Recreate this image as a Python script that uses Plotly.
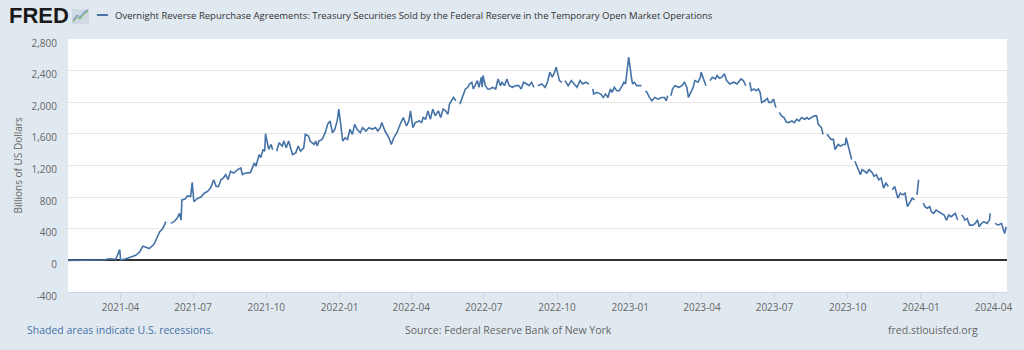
import plotly.graph_objects as go

# ---- data ----
dates = [
    "2021-01-25", "2021-02-09", "2021-02-25", "2021-03-10", "2021-03-18", "2021-03-26", "2021-03-31", "2021-04-01",
    "2021-04-08", "2021-04-14", "2021-04-20", "2021-04-25", "2021-04-29", "2021-05-02", "2021-05-07", "2021-05-13",
    "2021-05-15", "2021-05-20", "2021-05-24", "2021-05-28", "2021-05-31", "2021-06-03", "2021-06-07", "2021-06-11",
    "2021-06-14", "2021-06-16", "2021-06-17", "2021-06-21", "2021-06-24", "2021-06-28", "2021-06-30", "2021-07-02",
    "2021-07-07", "2021-07-11", "2021-07-15", "2021-07-19", "2021-07-23", "2021-07-27", "2021-07-30", "2021-08-02",
    "2021-08-05", "2021-08-08", "2021-08-11", "2021-08-14", "2021-08-17", "2021-08-21", "2021-08-26", "2021-08-30",
    "2021-09-01", "2021-09-05", "2021-09-09", "2021-09-11", "2021-09-16", "2021-09-18", "2021-09-22", "2021-09-24",
    "2021-09-27", "2021-09-29", "2021-09-30", "2021-10-04", "2021-10-07", "2021-10-09", "2021-10-11", "2021-10-14",
    "2021-10-17", "2021-10-21", "2021-10-23", "2021-10-26", "2021-10-29", "2021-11-01", "2021-11-03", "2021-11-07",
    "2021-11-10", "2021-11-13", "2021-11-17", "2021-11-19", "2021-11-23", "2021-11-25", "2021-11-30", "2021-12-02",
    "2021-12-04", "2021-12-06", "2021-12-10", "2021-12-14", "2021-12-17", "2021-12-20", "2021-12-23", "2021-12-26",
    "2021-12-29", "2021-12-31", "2022-01-05", "2022-01-08", "2022-01-11", "2022-01-14", "2022-01-17", "2022-01-20",
    "2022-01-23", "2022-01-27", "2022-01-30", "2022-02-03", "2022-02-07", "2022-02-11", "2022-02-15", "2022-02-18",
    "2022-02-21", "2022-02-23", "2022-02-27", "2022-03-04", "2022-03-07", "2022-03-10", "2022-03-14", "2022-03-19",
    "2022-03-22", "2022-03-26", "2022-03-29", "2022-03-31", "2022-04-03", "2022-04-06", "2022-04-11", "2022-04-14",
    "2022-04-16", "2022-04-19", "2022-04-22", "2022-04-25", "2022-04-28", "2022-05-01", "2022-05-05", "2022-05-08",
    "2022-05-11", "2022-05-14", "2022-05-17", "2022-05-19", "2022-05-22", "2022-05-24", "2022-05-27", "2022-05-30",
    "2022-06-01", "2022-06-04", "2022-06-08", "2022-06-11", "2022-06-13", "2022-06-16", "2022-06-18", "2022-06-20",
    "2022-06-23", "2022-06-25", "2022-06-28", "2022-06-29", "2022-06-30", "2022-07-03", "2022-07-06", "2022-07-09",
    "2022-07-12", "2022-07-16", "2022-07-19", "2022-07-22", "2022-07-24", "2022-07-27", "2022-07-30", "2022-08-02",
    "2022-08-06", "2022-08-10", "2022-08-14", "2022-08-17", "2022-08-20", "2022-08-24", "2022-08-27", "2022-08-30",
    "2022-09-02", "2022-09-05", "2022-09-07", "2022-09-12", "2022-09-16", "2022-09-19", "2022-09-22", "2022-09-25",
    "2022-09-28", "2022-09-30", "2022-10-04", "2022-10-07", "2022-10-10", "2022-10-11", "2022-10-15", "2022-10-19",
    "2022-10-22", "2022-10-26", "2022-10-30", "2022-11-02", "2022-11-06", "2022-11-10", "2022-11-11", "2022-11-15",
    "2022-11-16", "2022-11-20", "2022-11-25", "2022-11-28", "2022-12-01", "2022-12-04", "2022-12-07", "2022-12-09",
    "2022-12-12", "2022-12-15", "2022-12-18", "2022-12-22", "2022-12-24", "2022-12-26", "2022-12-30", "2023-01-03",
    "2023-01-04", "2023-01-06", "2023-01-09", "2023-01-12", "2023-01-15", "2023-01-16", "2023-01-20", "2023-01-22",
    "2023-01-25", "2023-01-28", "2023-02-01", "2023-02-05", "2023-02-09", "2023-02-13", "2023-02-15", "2023-02-17",
    "2023-02-20", "2023-02-21", "2023-02-23", "2023-02-26", "2023-03-03", "2023-03-07", "2023-03-10", "2023-03-13",
    "2023-03-15", "2023-03-18", "2023-03-21", "2023-03-23", "2023-03-27", "2023-03-30", "2023-03-31", "2023-04-03",
    "2023-04-06", "2023-04-07", "2023-04-11", "2023-04-14", "2023-04-18", "2023-04-20", "2023-04-23", "2023-04-26",
    "2023-04-29", "2023-05-02", "2023-05-06", "2023-05-11", "2023-05-15", "2023-05-18", "2023-05-20", "2023-05-23",
    "2023-05-26", "2023-05-29", "2023-05-31", "2023-06-02", "2023-06-05", "2023-06-08", "2023-06-11", "2023-06-13",
    "2023-06-15", "2023-06-19", "2023-06-22", "2023-06-24", "2023-06-27", "2023-06-30", "2023-07-02", "2023-07-03",
    "2023-07-04", "2023-07-07", "2023-07-10", "2023-07-13", "2023-07-16", "2023-07-19", "2023-07-23", "2023-07-26",
    "2023-07-29", "2023-08-01", "2023-08-04", "2023-08-08", "2023-08-11", "2023-08-13", "2023-08-17", "2023-08-20",
    "2023-08-23", "2023-08-25", "2023-08-29", "2023-08-31", "2023-09-04", "2023-09-05", "2023-09-07", "2023-09-10",
    "2023-09-13", "2023-09-15", "2023-09-19", "2023-09-22", "2023-09-25", "2023-09-28", "2023-09-29", "2023-10-03",
    "2023-10-06", "2023-10-09", "2023-10-10", "2023-10-14", "2023-10-17", "2023-10-19", "2023-10-22", "2023-10-25",
    "2023-10-28", "2023-11-01", "2023-11-03", "2023-11-06", "2023-11-09", "2023-11-12", "2023-11-15", "2023-11-18",
    "2023-11-21", "2023-11-23", "2023-11-26", "2023-11-29", "2023-12-03", "2023-12-06", "2023-12-09", "2023-12-12",
    "2023-12-15", "2023-12-18", "2023-12-21", "2023-12-24", "2023-12-25", "2023-12-27", "2023-12-29", "2024-01-01",
    "2024-01-04", "2024-01-06", "2024-01-09", "2024-01-12", "2024-01-14", "2024-01-17", "2024-01-20", "2024-01-23",
    "2024-01-27", "2024-01-30", "2024-02-02", "2024-02-05", "2024-02-08", "2024-02-10", "2024-02-13", "2024-02-16",
    "2024-02-19", "2024-02-21", "2024-02-23", "2024-02-25", "2024-02-28", "2024-03-02", "2024-03-06", "2024-03-09",
    "2024-03-12", "2024-03-14", "2024-03-17", "2024-03-20", "2024-03-24", "2024-03-27", "2024-03-28", "2024-03-29",
    "2024-04-03", "2024-04-07", "2024-04-11", "2024-04-15", "2024-04-17",
]

values = [
    0, 0, 2, 5, 20, 15, 136, 5,
    20, 40, 64, 106, 178, 170, 150, 204,
    255, 360, 404, 489, None, 468, 489, 531,
    595, 510, 765, 775, 816, 810, 986, 744,
    786, 800, 850, 870, 914, 1020, 935, 935,
    1020, 1041, 1084, 1020, 1126, 1105, 1148, 1169,
    1084, 1105, 1105, 1110, 1233, 1190, 1339, 1300,
    1403, 1380, 1602, 1403, 1466, 1400, None, 1381,
    1488, 1445, 1509, 1424, 1509, 1403, 1339, 1360,
    1445, 1381, 1424, 1594, 1573, 1509, 1466, 1509,
    1445, 1509, 1530, 1615, 1721, 1764, 1615, 1658,
    1764, 1913, 1509, 1551, 1530, 1658, 1594, 1721,
    1658, 1615, 1679, 1636, 1679, 1658, 1679, 1636,
    1679, 1743, 1636, 1551, 1466, 1551, 1615, 1743,
    1806, 1700, 1764, 1891, 1679, 1743, 1764, 1743,
    1806, 1785, 1891, 1785, 1913, 1828, 1891, 1806,
    1913, 1891, 1849, 1976, 2019, 2061, 2019, None,
    1976, 2061, 2168, 2189, 2231, 2253, 2168, 2210,
    2274, 2189, 2317, 2189, 2338, 2210, 2168, 2168,
    2189, 2168, 2295, 2210, 2253, 2210, 2295, 2210,
    2189, 2210, 2210, 2168, 2253, 2231, 2210, 2253,
    2189, None, 2210, 2231, 2189, 2253, 2380, 2317,
    2380, 2444, 2274, 2253, None, 2274, 2210, 2274,
    2231, 2189, 2274, 2231, 2253, 2231, None, 2168,
    2104, 2125, 2104, 2061, 2104, 2061, 2168, 2125,
    2189, 2146, 2146, 2210, 2253, 2231, 2571, 2274,
    2231, 2253, 2210, 2210, 2210, None, 2146, 2125,
    2061, 2019, 2061, 2040, 2061, 2061, 2019, 2083,
    None, 2083, 2168, 2210, 2189, 2210, 2253, 2189,
    2061, 2125, 2189, 2274, 2253, 2317, 2380, 2295,
    2210, None, 2274, 2317, 2295, 2338, 2304, 2317,
    2359, 2274, 2231, 2253, 2231, 2274, 2295, 2274,
    2210, None, 2253, 2146, 2168, 2146, 2168, 2125,
    1998, 2019, 2049, 1998, 1998, 2040, 1955, 1934,
    None, 1870, 1828, 1806, 1751, 1743, 1764, 1743,
    1785, 1764, 1806, 1785, 1806, 1785, 1806, 1828,
    1828, 1722, 1679, 1594, None, 1594, 1573, 1530,
    1530, 1403, 1466, 1445, 1466, 1466, 1551, 1403,
    1275, None, 1254, 1169, 1084, 1148, 1126, 1105,
    1148, 1105, 1063, 1084, 1020, 1041, 914, 978,
    935, None, 893, 935, 786, 850, 829, 850,
    680, 744, 786, 765, None, 829, 1020, None,
    723, 680, 659, 680, 616, 595, 637, 616,
    595, 574, 510, 574, 553, 574, 595, 510,
    None, 574, 553, 510, 531, 446, 446, 468,
    510, 425, 468, 489, 468, 510, 595, None,
    468, 446, 468, 340, 425,
]

tick_dates = [
    "2021-04-01", "2021-07-01", "2021-10-01", "2022-01-01", "2022-04-01", "2022-07-01", "2022-10-01",
    "2023-01-01", "2023-04-01", "2023-07-01", "2023-10-01", "2024-01-01", "2024-04-01",
]
y_ticks = [-400, 0, 400, 800, 1200, 1600, 2000, 2400, 2800]
y_tick_labels = ["-400", "0", "400", "800", "1,200", "1,600", "2,000", "2,400", "2,800"]

series_name = ("Overnight Reverse Repurchase Agreements: Treasury Securities Sold by the "
               "Federal Reserve in the Temporary Open Market Operations")

LINE = "#4572a7"
FONT = "Open Sans"

fig = go.Figure()
fig.add_trace(go.Scatter(
    x=dates, y=values, mode="lines", connectgaps=False,
    line=dict(color=LINE, width=1.6), name=series_name, showlegend=False,
))

fig.update_layout(
    width=1024, height=350,
    margin=dict(l=68, r=15, t=39, b=58),
    paper_bgcolor="#e1e9f0",
    plot_bgcolor="#ffffff",
    font=dict(family=FONT, color="#666666", size=10),
    xaxis=dict(
        type="date",
        range=["2021-01-25", "2024-04-18"],
        tickvals=tick_dates,
        tickformat="%Y-%m",
        showgrid=False,
        ticks="outside", ticklen=6, tickcolor="#ccd6eb", tickwidth=1,
        showline=True, linecolor="#ccd6eb", linewidth=1,
        tickfont=dict(size=10, color="#666666"),
        zeroline=False,
    ),
    yaxis=dict(
        range=[-400, 2800],
        tickvals=y_ticks,
        ticktext=y_tick_labels,
        showgrid=True, gridcolor="#e6e6e6", gridwidth=1,
        zeroline=True, zerolinecolor="#333333", zerolinewidth=2,
        ticks="", ticklabelstandoff=10, ticklabelshift=4,
        tickfont=dict(size=10, color="#666666"),
        showline=False,
    ),
)

annotations = [
    dict(text="<b>FRED</b>", xref="paper", yref="paper", x=0, y=1, xanchor="left", yanchor="middle",
         xshift=-61, yshift=24, showarrow=False,
         font=dict(family="Liberation Sans", size=22, color="#1a1a1a")),
    dict(text=series_name, xref="paper", yref="paper", x=0, y=1, xanchor="left", yanchor="middle",
         xshift=45, yshift=24, showarrow=False,
         font=dict(family=FONT, size=9.5, color="#333333")),
    dict(text="Billions of US Dollars", xref="paper", yref="paper", x=0, y=0.5, xanchor="center",
         yanchor="middle", xshift=-51, textangle=-90, showarrow=False,
         font=dict(family=FONT, size=10, color="#666666")),
    dict(text="Shaded areas indicate U.S. recessions.", xref="paper", yref="paper", x=0, y=0,
         xanchor="left", yanchor="middle", xshift=-43, yshift=-38, showarrow=False,
         font=dict(family=FONT, size=10.5, color="#4572a7")),
    dict(text="Source: Federal Reserve Bank of New York", xref="paper", yref="paper", x=0, y=0,
         xanchor="center", yanchor="middle", xshift=440, yshift=-38, showarrow=False,
         font=dict(family=FONT, size=10.5, color="#666666")),
    dict(text="fred.stlouisfed.org", xref="paper", yref="paper", x=0, y=0,
         xanchor="right", yanchor="middle", xshift=912, yshift=-38, showarrow=False,
         font=dict(family=FONT, size=10.5, color="#666666")),
]
fig.update_layout(annotations=annotations)

# legend dash and small logo icon (paper coordinates; plot is 941 x 253 px)
def px(xp):
    return (xp - 68) / 941.0

def py(yp):
    return (292 - yp) / 253.0

shapes = [
    dict(type="line", xref="paper", yref="paper", x0=px(97), x1=px(108), y0=py(15), y1=py(15),
         line=dict(color=LINE, width=2)),
    dict(type="rect", xref="paper", yref="paper", x0=px(72), x1=px(89), y0=py(24), y1=py(9),
         fillcolor="#cfd9e3", line=dict(width=0)),
    dict(type="path", xref="paper", yref="paper",
         path=f"M {px(73)},{py(22)} L {px(77)},{py(17)} L {px(80)},{py(19)} L {px(84)},{py(14)} L {px(88)},{py(11)}",
         line=dict(color="#7fb069", width=1.2)),
    dict(type="path", xref="paper", yref="paper",
         path=f"M {px(73)},{py(20)} L {px(77)},{py(15)} L {px(80)},{py(17)} L {px(84)},{py(12)} L {px(88)},{py(10)}",
         line=dict(color="#6a93c9", width=1)),
]
fig.update_layout(shapes=shapes)

fig.write_html("out.html")
